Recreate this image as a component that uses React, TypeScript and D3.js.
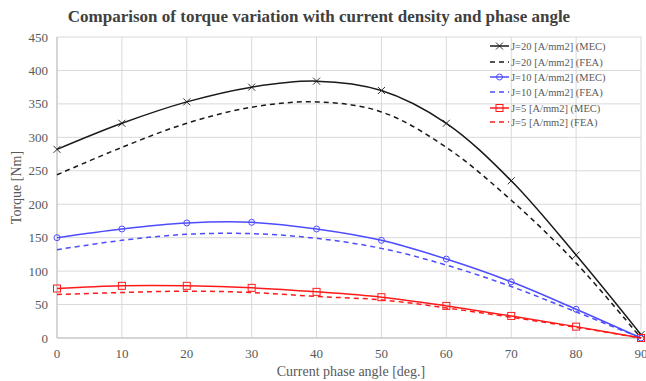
import React from "react";
import * as d3 from "d3";

const angles = [0, 10, 20, 30, 40, 50, 60, 70, 80, 90];
const j20Mec = [282, 321, 353, 375, 384, 370, 321, 235, 124, 5];
const j20Fea = [244, 285, 321, 345, 353, 338, 285, 206, 112, 0];
const j10Mec = [150, 163, 172, 173, 163, 146, 118, 84, 43, 0];
const j10Fea = [132, 146, 155, 156, 149, 134, 109, 77, 39, 0];
const j5Mec = [74, 78, 78, 75, 69, 61, 48, 33, 17, 0];
const j5Fea = [65, 68, 70, 68, 62, 57, 45, 31, 16, 0];
const yTicks = [0, 50, 100, 150, 200, 250, 300, 350, 400, 450];
const xTicks = [0, 10, 20, 30, 40, 50, 60, 70, 80, 90];

const series = [
  { name: "J=20 [A/mm2] (MEC)", values: j20Mec, color: "#1a1a1a", dashed: false, marker: "x" },
  { name: "J=20 [A/mm2] (FEA)", values: j20Fea, color: "#1a1a1a", dashed: true, marker: "" },
  { name: "J=10 [A/mm2] (MEC)", values: j10Mec, color: "#4d4dff", dashed: false, marker: "o" },
  { name: "J=10 [A/mm2] (FEA)", values: j10Fea, color: "#4d4dff", dashed: true, marker: "" },
  { name: "J=5 [A/mm2] (MEC)", values: j5Mec, color: "#ff1a1a", dashed: false, marker: "s" },
  { name: "J=5 [A/mm2] (FEA)", values: j5Fea, color: "#ff1a1a", dashed: true, marker: "" },
];

function Marker({ type, x, y, color }: { type: string; x: number; y: number; color: string }) {
  if (type === "x") {
    const s = 3.5;
    return (
      <g stroke={color} strokeWidth={0.9}>
        <line x1={x - s} y1={y - s} x2={x + s} y2={y + s} />
        <line x1={x - s} y1={y + s} x2={x + s} y2={y - s} />
      </g>
    );
  }
  if (type === "o") {
    return <circle cx={x} cy={y} r={3} fill="none" stroke={color} strokeWidth={1} />;
  }
  if (type === "s") {
    return <rect x={x - 3.5} y={y - 3.5} width={7} height={7} fill="none" stroke={color} strokeWidth={1} />;
  }
  return null;
}

export default function App() {
  const W = 646;
  const H = 381;
  const left = 57;
  const right = 641;
  const top = 37;
  const bottom = 338;
  const x = d3.scaleLinear().domain([0, 90]).range([left, right]);
  const y = d3.scaleLinear().domain([0, 450]).range([bottom, top]);
  const line = d3
    .line<number>()
    .x((_, i) => x(angles[i]))
    .y((d) => y(d))
    .curve(d3.curveCatmullRom.alpha(0.5));
  const font = "'Liberation Serif', 'Times New Roman', serif";
  const legendX = 490;
  const legendY = [46, 62, 77, 92, 108, 122];

  return (
    <svg width={W} height={H} style={{ position: "absolute", left: 0, top: 0, background: "#fff" }} fontFamily={font}>
      <rect x={0} y={0} width={W} height={H} fill="#fff" />
      <text x={319} y={22} textAnchor="middle" fontSize={17} fontWeight="bold" fill="#404040">
        Comparison of torque variation with current density and phase angle
      </text>
      {yTicks.map((t) => (
        <line key={"gy" + t} x1={left} x2={right} y1={y(t)} y2={y(t)} stroke="#d9d9d9" strokeWidth={1} />
      ))}
      {xTicks.map((t) => (
        <line key={"gx" + t} x1={x(t)} x2={x(t)} y1={top} y2={bottom} stroke="#d9d9d9" strokeWidth={1} />
      ))}
      <line x1={left} x2={right} y1={bottom} y2={bottom} stroke="#bfbfbf" strokeWidth={1} />
      <line x1={left} x2={left} y1={top} y2={bottom} stroke="#bfbfbf" strokeWidth={1} />
      {yTicks.map((t) => (
        <text key={"ty" + t} x={48} y={y(t) + 4.5} textAnchor="end" fontSize={13} fill="#595959">
          {t}
        </text>
      ))}
      {xTicks.map((t) => (
        <text key={"tx" + t} x={x(t)} y={bottom + 20} textAnchor="middle" fontSize={13} fill="#595959">
          {t}
        </text>
      ))}
      <text x={351} y={376} textAnchor="middle" fontSize={14} fill="#595959">
        Current phase angle [deg.]
      </text>
      <text transform={`translate(21,${(top + bottom) / 2}) rotate(-90)`} textAnchor="middle" fontSize={14} fill="#595959">
        Torque [Nm]
      </text>
      {series.map((s) => (
        <g key={s.name}>
          <path
            d={line(s.values) || ""}
            fill="none"
            stroke={s.color}
            strokeWidth={1.5}
            strokeDasharray={s.dashed ? "5,4" : undefined}
          />
          {s.marker &&
            s.values.map((v, i) => <Marker key={i} type={s.marker} x={x(angles[i])} y={y(v)} color={s.color} />)}
        </g>
      ))}
      {series.map((s, i) => (
        <g key={"lg" + s.name}>
          <line
            x1={legendX}
            x2={legendX + 19}
            y1={legendY[i]}
            y2={legendY[i]}
            stroke={s.color}
            strokeWidth={1.5}
            strokeDasharray={s.dashed ? "5,4" : undefined}
          />
          {s.marker && <Marker type={s.marker} x={legendX + 9.5} y={legendY[i]} color={s.color} />}
          <text x={legendX + 21} y={legendY[i] + 3.5} fontSize={10.5} fill="#595959">
            {s.name}
          </text>
        </g>
      ))}
    </svg>
  );
}
